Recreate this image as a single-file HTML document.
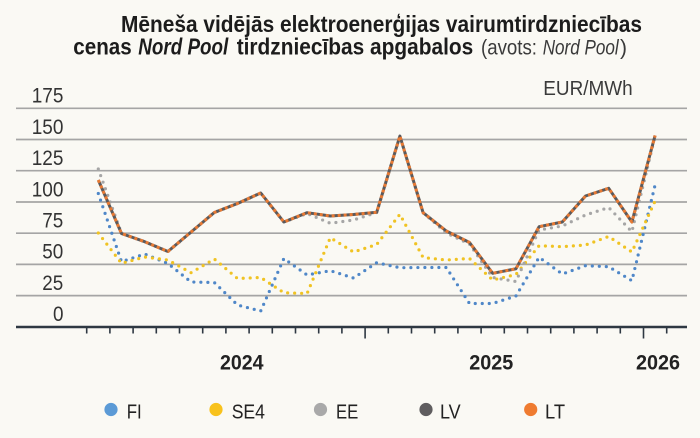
<!DOCTYPE html>
<html>
<head>
<meta charset="utf-8">
<style>
html,body{margin:0;padding:0;background:#faf9f4;}
svg{display:block;}
text{font-family:"Liberation Sans",sans-serif;}
</style>
</head>
<body>
<svg width="700" height="438" viewBox="0 0 700 438" xmlns="http://www.w3.org/2000/svg">
<rect x="0" y="0" width="700" height="438" fill="#faf9f4"/>

<!-- Title -->
<text x="121" y="32" font-size="23" font-weight="bold" fill="#1c1c1c" textLength="521" lengthAdjust="spacingAndGlyphs">Mēneša vidējās elektroenerģijas vairumtirdzniecības</text>
<text x="73.3" y="54.5" font-size="23" font-weight="bold" fill="#1c1c1c" textLength="58.4" lengthAdjust="spacingAndGlyphs">cenas</text>
<text x="138.3" y="54.5" font-size="23" font-weight="bold" font-style="italic" fill="#1c1c1c" textLength="90" lengthAdjust="spacingAndGlyphs">Nord Pool</text>
<text x="236.7" y="54.5" font-size="23" font-weight="bold" fill="#1c1c1c" textLength="236.6" lengthAdjust="spacingAndGlyphs">tirdzniecības apgabalos</text>
<text x="481" y="54.5" font-size="21" fill="#3a3a3a" textLength="56" lengthAdjust="spacingAndGlyphs">(avots:</text>
<text x="542.7" y="54.5" font-size="21" font-style="italic" fill="#3a3a3a" textLength="76" lengthAdjust="spacingAndGlyphs">Nord Pool</text>
<text x="620" y="54.5" font-size="21" fill="#3a3a3a" textLength="7" lengthAdjust="spacingAndGlyphs">)</text>

<text x="543.3" y="95" font-size="20" fill="#3a3a3a" textLength="89.4" lengthAdjust="spacingAndGlyphs">EUR/MWh</text>

<!-- Gridlines -->
<g stroke="#a5a5a5" stroke-width="1.7">
<line x1="16" y1="108.3" x2="687" y2="108.3"/>
<line x1="16" y1="139.5" x2="687" y2="139.5"/>
<line x1="16" y1="170.7" x2="687" y2="170.7"/>
<line x1="16" y1="202" x2="687" y2="202"/>
<line x1="16" y1="233.2" x2="687" y2="233.2"/>
<line x1="16" y1="264.4" x2="687" y2="264.4"/>
<line x1="16" y1="295.6" x2="687" y2="295.6"/>
</g>

<!-- Y labels -->
<g font-size="21" fill="#333">
<text x="31.7" y="102.7" textLength="31.7" lengthAdjust="spacingAndGlyphs">175</text>
<text x="31.7" y="133.9" textLength="31.7" lengthAdjust="spacingAndGlyphs">150</text>
<text x="31.7" y="165.1" textLength="31.7" lengthAdjust="spacingAndGlyphs">125</text>
<text x="31.7" y="196.3" textLength="31.7" lengthAdjust="spacingAndGlyphs">100</text>
<text x="42.3" y="227.5" textLength="21" lengthAdjust="spacingAndGlyphs">75</text>
<text x="42.3" y="258.7" textLength="21" lengthAdjust="spacingAndGlyphs">50</text>
<text x="42.3" y="289.9" textLength="21" lengthAdjust="spacingAndGlyphs">25</text>
<text x="53" y="321.1" textLength="10.5" lengthAdjust="spacingAndGlyphs">0</text>
</g>

<!-- Series -->
<g fill="none" stroke-linejoin="round">
<!-- FI -->
<polyline stroke="#4f87c8" stroke-width="3.2" stroke-linecap="round" stroke-dasharray="0 7"
points="98.3,193.5 121.5,261.7 144.7,254 167.9,263.5 191.1,282 214.3,282.5 237.5,305 260.7,311 283.9,258.5 307.1,275 330.3,270.7 353.5,278 376.7,262.7 399.9,267.7 423.1,267.5 446.3,267.5 469.5,303.5 492.7,303.5 515.9,296 539.1,257.3 562.3,274 585.5,265.7 608.7,266.7 631.9,280.7 655.1,185"/>
<!-- SE4 -->
<polyline stroke="#f0c323" stroke-width="3.2" stroke-linecap="round" stroke-dasharray="0 7"
points="98.3,233 121.5,263.3 144.7,257 167.9,260 191.1,272.7 214.3,259 237.5,278.5 260.7,277.5 283.9,292.7 307.1,293.5 330.3,237.7 353.5,252 376.7,244.5 399.9,214.3 423.1,257.5 446.3,260 469.5,258.5 492.7,280 515.9,274.5 539.1,245.7 562.3,246.7 585.5,245 608.7,236.5 631.9,252 655.1,201"/>
<!-- EE -->
<polyline stroke="#a6a6a6" stroke-width="3.2" stroke-linecap="round" stroke-dasharray="0 7"
points="98.3,169 121.5,233.5 144.7,241.7 167.9,251.5 191.1,232 214.3,212.5 237.5,203.5 260.7,193 283.9,222 307.1,213.5 330.3,223.3 353.5,220 376.7,212.5 399.9,136 423.1,212.7 446.3,233 469.5,244 492.7,277.5 515.9,281.5 539.1,230 562.3,226 585.5,215 608.7,207.5 631.9,231.7 655.1,136"/>
<!-- LV -->
<polyline stroke="#5b5a5c" stroke-width="3"
points="98.3,180 121.5,233.5 144.7,241.7 167.9,251.5 191.1,232 214.3,212.5 237.5,203.5 260.7,193 283.9,222 307.1,212.7 330.3,216 353.5,214.5 376.7,212.3 399.9,136 423.1,212.7 446.3,231 469.5,242.5 492.7,273.3 515.9,268.8 539.1,226.7 562.3,222 585.5,196 608.7,188.3 631.9,222 655.1,135.5"/>
<!-- LT -->
<polyline stroke="#e97a33" stroke-width="3" stroke-dasharray="3 3"
points="98.3,180 121.5,233.5 144.7,241.7 167.9,251.5 191.1,232 214.3,212.5 237.5,203.5 260.7,193 283.9,222 307.1,212.7 330.3,216 353.5,214.5 376.7,212.3 399.9,136 423.1,212.7 446.3,231 469.5,242.5 492.7,273.3 515.9,268.8 539.1,226.7 562.3,222 585.5,196 608.7,188.3 631.9,222 655.1,135.5"/>
</g>

<!-- X axis -->
<line x1="16" y1="327" x2="687" y2="327" stroke="#2e3842" stroke-width="2.6"/>
<g stroke="#2e3842" stroke-width="1.6">
<line x1="86.7" y1="327" x2="86.7" y2="333.5"/>
<line x1="109.9" y1="327" x2="109.9" y2="333.5"/>
<line x1="133.1" y1="327" x2="133.1" y2="333.5"/>
<line x1="156.3" y1="327" x2="156.3" y2="333.5"/>
<line x1="179.5" y1="327" x2="179.5" y2="333.5"/>
<line x1="202.7" y1="327" x2="202.7" y2="333.5"/>
<line x1="225.9" y1="327" x2="225.9" y2="333.5"/>
<line x1="249.1" y1="327" x2="249.1" y2="333.5"/>
<line x1="272.3" y1="327" x2="272.3" y2="333.5"/>
<line x1="295.5" y1="327" x2="295.5" y2="333.5"/>
<line x1="318.7" y1="327" x2="318.7" y2="333.5"/>
<line x1="341.9" y1="327" x2="341.9" y2="333.5"/>
<line x1="365.1" y1="327" x2="365.1" y2="338.5"/>
<line x1="388.3" y1="327" x2="388.3" y2="333.5"/>
<line x1="411.5" y1="327" x2="411.5" y2="333.5"/>
<line x1="434.7" y1="327" x2="434.7" y2="333.5"/>
<line x1="457.9" y1="327" x2="457.9" y2="333.5"/>
<line x1="481.1" y1="327" x2="481.1" y2="333.5"/>
<line x1="504.3" y1="327" x2="504.3" y2="333.5"/>
<line x1="527.5" y1="327" x2="527.5" y2="333.5"/>
<line x1="550.7" y1="327" x2="550.7" y2="333.5"/>
<line x1="573.9" y1="327" x2="573.9" y2="333.5"/>
<line x1="597.1" y1="327" x2="597.1" y2="333.5"/>
<line x1="620.3" y1="327" x2="620.3" y2="333.5"/>
<line x1="643.5" y1="327" x2="643.5" y2="338.5"/>
<line x1="666.7" y1="327" x2="666.7" y2="333.5"/>
</g>

<!-- Year labels -->
<g font-size="21" font-weight="bold" fill="#222">
<text x="220" y="369.3" textLength="43.5" lengthAdjust="spacingAndGlyphs">2024</text>
<text x="469.3" y="369.3" textLength="44" lengthAdjust="spacingAndGlyphs">2025</text>
<text x="636" y="369.3" textLength="44" lengthAdjust="spacingAndGlyphs">2026</text>
</g>

<!-- Legend -->
<circle cx="111" cy="409.5" r="6.6" fill="#5b9ad6"/>
<circle cx="216" cy="409.5" r="6.6" fill="#f8c21c"/>
<circle cx="320.5" cy="409.5" r="6.6" fill="#a9a9a9"/>
<circle cx="426" cy="409.5" r="6.6" fill="#5f5d5f"/>
<circle cx="530.7" cy="409.5" r="6.6" fill="#ef7b30"/>
<g font-size="20" fill="#222">
<text x="126.7" y="418.3" textLength="15" lengthAdjust="spacingAndGlyphs">FI</text>
<text x="231.7" y="418.3" textLength="33.3" lengthAdjust="spacingAndGlyphs">SE4</text>
<text x="336" y="418.3" textLength="22.3" lengthAdjust="spacingAndGlyphs">EE</text>
<text x="440" y="418.3" textLength="20.7" lengthAdjust="spacingAndGlyphs">LV</text>
<text x="545" y="418.3" textLength="20" lengthAdjust="spacingAndGlyphs">LT</text>
</g>
</svg>
</body>
</html>
